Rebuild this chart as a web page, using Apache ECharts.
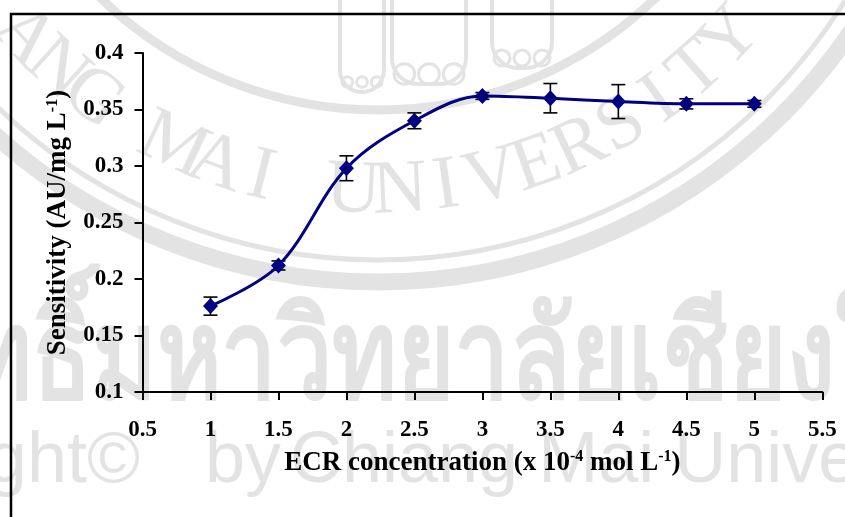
<!DOCTYPE html>
<html>
<head>
<meta charset="utf-8">
<style>
  html, body { margin: 0; padding: 0; background: #fff; }
  #chart { width: 845px; height: 517px; }
</style>
<script src="https://cdn.jsdelivr.net/npm/echarts@6/dist/echarts.min.js"></script>
</head>
<body>
<div id="chart"></div>
<script>
// ECR concentration (x 10^-4 mol/L)
const concentration = [1, 1.5, 2, 2.5, 3, 3.5, 4, 4.5, 5];
// Sensitivity (AU per mg/L)
const sensitivity = [0.176, 0.212, 0.298, 0.340, 0.362, 0.360, 0.357, 0.355, 0.355];
// Standard deviation for each point
const deviation = [0.008, 0.004, 0.011, 0.007, 0.003, 0.013, 0.015, 0.0045, 0.003];

// Background watermark texts
const sealText = 'CHIANG MAI UNIVERSITY';
const watermarkThai = 'ลิขสิทธิ์มหาวิทยาลัยเชียงใหม่';
const watermarkEnglish = ['Copyright©', 'by', 'Chiang Mai University'];

const SERIF = '"Liberation Serif", "Times New Roman", serif';
const NAVY = '#000080';
const WM = '#e3e3e3';

const chart = echarts.init(document.getElementById('chart'), null, { renderer: 'canvas' });

function wm(el) { el.z = -10; el.silent = true; return el; }

// Seal: concentric rings plus letters placed along an arc
const sealCx = 378, sealCy = -290;
const wmElements = [
  wm({ type: 'circle', shape: { cx: sealCx, cy: sealCy, r: 400 }, style: { fill: null, stroke: WM, lineWidth: 9 } }),
  wm({ type: 'circle', shape: { cx: sealCx, cy: sealCy, r: 550 }, style: { fill: null, stroke: WM, lineWidth: 5 } }),
  wm({ type: 'circle', shape: { cx: sealCx, cy: sealCy, r: 572 }, style: { fill: null, stroke: WM, lineWidth: 17 } })
];
sealText.split('').forEach(function (ch, i) {
  if (ch === ' ') return;
  const deg = 154 - 5.55 * i;
  const rad = deg * Math.PI / 180;
  wmElements.push(wm({
    type: 'text',
    x: sealCx + 482 * Math.cos(rad),
    y: sealCy + 482 * Math.sin(rad),
    rotation: (90 - deg) * Math.PI / 180,
    style: { text: ch, font: '76px ' + SERIF, fill: WM, align: 'center', verticalAlign: 'middle' }
  }));
});
// Elephant feet drawn in the seal centre
[[340, 384, 92], [392, 466, 84], [492, 552, 68]].forEach(function (f) {
  const l = f[0], r = f[1], b = f[2];
  wmElements.push(wm({
    type: 'rect', shape: { x: l, y: -20, width: r - l, height: b + 20, r: [0, 0, 26, 26] },
    style: { fill: null, stroke: WM, lineWidth: 4 }
  }));
  const n = 3, step = (r - l) / n;
  for (let k = 0; k < n; k++) {
    wmElements.push(wm({
      type: 'circle', shape: { cx: l + step * (k + 0.5), cy: b - 10, r: step / 2 - 2 },
      style: { fill: null, stroke: WM, lineWidth: 3 }
    }));
  }
});
wmElements.push(wm({
  type: 'text', x: -221, y: 362, scaleX: 0.79,
  style: { text: watermarkThai, font: 'bold 125px "Noto Sans", "DejaVu Sans", sans-serif', fill: WM, verticalAlign: 'middle' }
}));
[[140, 'right'], [205, 'left'], [290, 'left']].forEach(function (p, i) {
  wmElements.push(wm({
    type: 'text', x: p[0], y: 462,
    style: { text: watermarkEnglish[i], font: '72px "Liberation Sans", Arial, sans-serif', fill: WM, align: p[1], verticalAlign: 'middle' }
  }));
});
// Frame around the figure
wmElements.push({
  type: 'rect', z: 5, silent: true,
  shape: { x: 11, y: 14, width: 900, height: 600 },
  style: { fill: null, stroke: '#000', lineWidth: 2.5 }
});

const labelStyle = { fontFamily: SERIF, fontWeight: 'bold', fontSize: 23, color: '#000' };
const nameRich = {
  t: { fontFamily: SERIF, fontWeight: 'bold', fontSize: 27, color: '#000' },
  s: { fontFamily: SERIF, fontWeight: 'bold', fontSize: 16, color: '#000', verticalAlign: 'top', padding: [0, 0, 12, 0] }
};

const option = {
  animation: false,
  backgroundColor: '#fff',
  graphic: { elements: wmElements },
  grid: { left: 142.5, right: 22.7, top: 53, bottom: 125, containLabel: false },
  xAxis: {
    type: 'value', min: 0.5, max: 5.5, interval: 0.5,
    name: '{t|ECR concentration (x 10}{s|-4}{t| mol L}{s|-1}{t|)}',
    nameLocation: 'middle', nameGap: 57,
    nameTextStyle: { rich: nameRich },
    axisLine: { show: true, onZero: false, lineStyle: { color: '#000', width: 2 } },
    axisTick: { show: true, length: 8, lineStyle: { color: '#000', width: 2 } },
    axisLabel: Object.assign({ margin: 27, formatter: function (v) { return String(+v.toFixed(1)); } }, labelStyle),
    splitLine: { show: false }
  },
  yAxis: {
    type: 'value', min: 0.1, max: 0.4, interval: 0.05,
    name: '{t|Sensitivity (AU/mg L}{s|-1}{t|)}',
    nameLocation: 'middle', nameGap: 70, nameRotate: 90,
    nameTextStyle: { rich: nameRich },
    axisLine: { show: true, onZero: false, lineStyle: { color: '#000', width: 2 } },
    axisTick: { show: true, length: 8, lineStyle: { color: '#000', width: 2 } },
    axisLabel: Object.assign({ margin: 19, formatter: function (v) { return String(+v.toFixed(2)); } }, labelStyle),
    splitLine: { show: false }
  },
  series: [
    {
      type: 'custom',
      z: 1,
      encode: { x: 0, y: [1, 2] },
      data: concentration.map(function (x, i) {
        return [x, sensitivity[i] - deviation[i], sensitivity[i] + deviation[i]];
      }),
      renderItem: function (params, api) {
        const lo = api.coord([api.value(0), api.value(1)]);
        const hi = api.coord([api.value(0), api.value(2)]);
        const w = 7;
        const st = { stroke: '#000', lineWidth: 1.6 };
        return {
          type: 'group',
          children: [
            { type: 'line', shape: { x1: hi[0], y1: hi[1], x2: lo[0], y2: lo[1] }, style: st },
            { type: 'line', shape: { x1: hi[0] - w, y1: hi[1], x2: hi[0] + w, y2: hi[1] }, style: st },
            { type: 'line', shape: { x1: lo[0] - w, y1: lo[1], x2: lo[0] + w, y2: lo[1] }, style: st }
          ]
        };
      }
    },
    {
      type: 'line',
      z: 3,
      smooth: 0.35,
      data: concentration.map(function (x, i) { return [x, sensitivity[i]]; }),
      symbol: 'diamond',
      symbolSize: [15, 16],
      itemStyle: { color: NAVY },
      lineStyle: { color: NAVY, width: 3 }
    }
  ]
};

chart.setOption(option);
</script>
</body>
</html>
